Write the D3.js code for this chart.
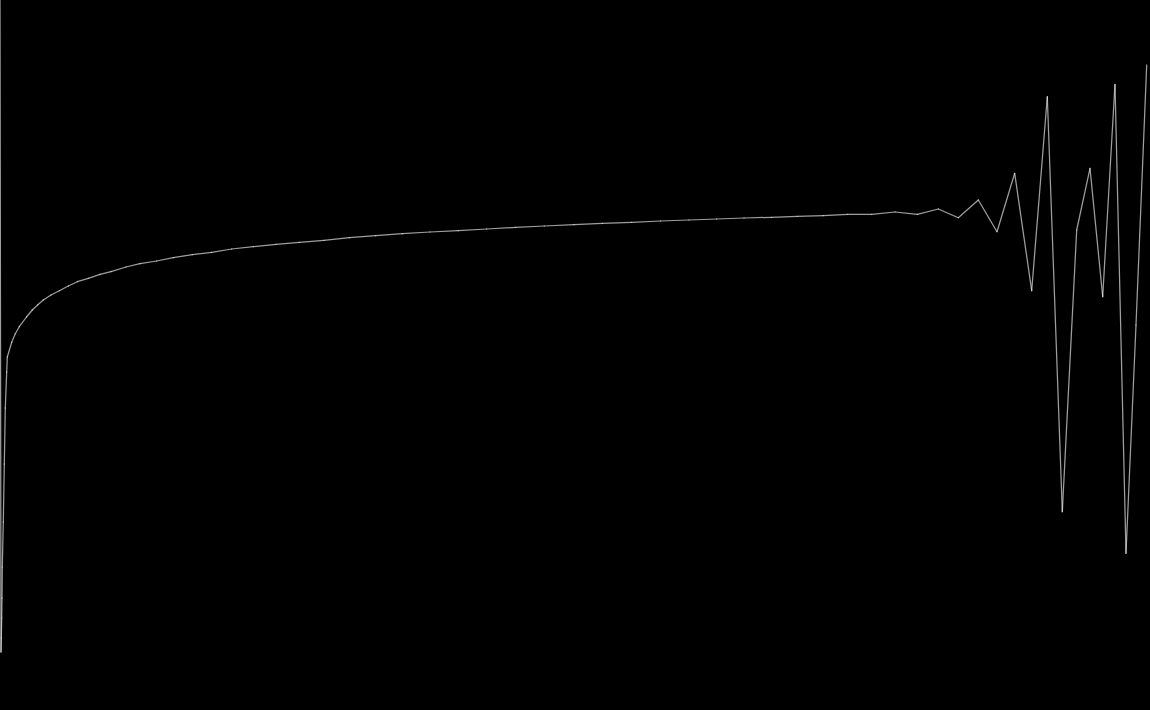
<!DOCTYPE html>
<html>
<head>
<meta charset="utf-8">
<script src="https://cdn.jsdelivr.net/npm/d3@7"></script>
<style>
html, body { margin: 0; padding: 0; background: #000; overflow: hidden; }
</style>
</head>
<body>
<svg id="chart" width="1150" height="710"></svg>
<script>
// step positions (no axis shown, units)
var steps = [0, 1, 1.3, 1.7, 2, 2.3, 3.3, 4.3, 5.3, 6.7, 7.3, 11.7, 15.3, 19.3, 26.5, 32.3, 37.8, 43.3,
	51, 59.3, 68.3, 77.3, 88.3, 100, 111, 126, 140, 156.7, 173.3, 192.3, 211.7, 231.7, 253.3, 276,
	299.3, 324, 349.3, 375.7, 402.3, 430, 458.3, 486.7, 515.7, 544.3, 574, 602.3, 631.7, 660.7, 689,
	716.7, 744, 771.7, 797.3, 823.3, 847.7, 871.7, 895, 917.3, 938.3, 958.3, 978.3, 997, 1014.7,
	1031.7, 1047.3, 1062.3, 1076.7, 1090, 1102.7, 1115, 1126, 1136, 1146.7];

// level at each step
var levels = [660, 8, 22, 42, 62, 93, 138, 196, 252, 288, 303, 317.7, 326.2, 333.3, 343, 350, 355.2, 360,
	365, 369.3, 374, 378.3, 381.7, 385.7, 388.3, 393, 396.3, 399, 402.3, 405.3, 407.7, 411, 413.3, 415.7,
	417.7, 419.7, 422.3, 424.3, 426.3, 428, 429.3, 431, 432.7, 434, 435.3, 436.7, 437.7, 439, 440,
	441, 442, 442.7, 443.7, 444.3, 445.7, 445.7, 448, 445.7, 451, 442.3, 460, 428.3, 486.7,
	369.3, 563.3, 148.3, 430, 491.7, 363.3, 575.7, 106.7, 335, 595];

var svg = d3.select("#chart");

svg.append("rect")
	.attr("width", 1150)
	.attr("height", 710)
	.attr("fill", "#000");

var xScale = d3.scaleLinear().domain([0, 1150]).range([0, 1150]);
var yScale = d3.scaleLinear().domain([0, 660]).range([660, 0]);

var pts = steps.map(function(s, i) { return {x: s, y: levels[i]}; });

// one segment per pair so the joins overlap a little, like the original
var pairs = d3.pairs(pts);

svg.append("g")
	.selectAll("line")
	.data(pairs)
	.enter()
	.append("line")
	.attr("x1", function(d) { return xScale(d[0].x); })
	.attr("y1", function(d) { return yScale(d[0].y); })
	.attr("x2", function(d) { return xScale(d[1].x); })
	.attr("y2", function(d) { return yScale(d[1].y); })
	.attr("stroke", "#fff")
	.attr("stroke-opacity", 0.62)
	.attr("stroke-width", 1.25)
	.attr("stroke-linecap", "round");
</script>
</body>
</html>
